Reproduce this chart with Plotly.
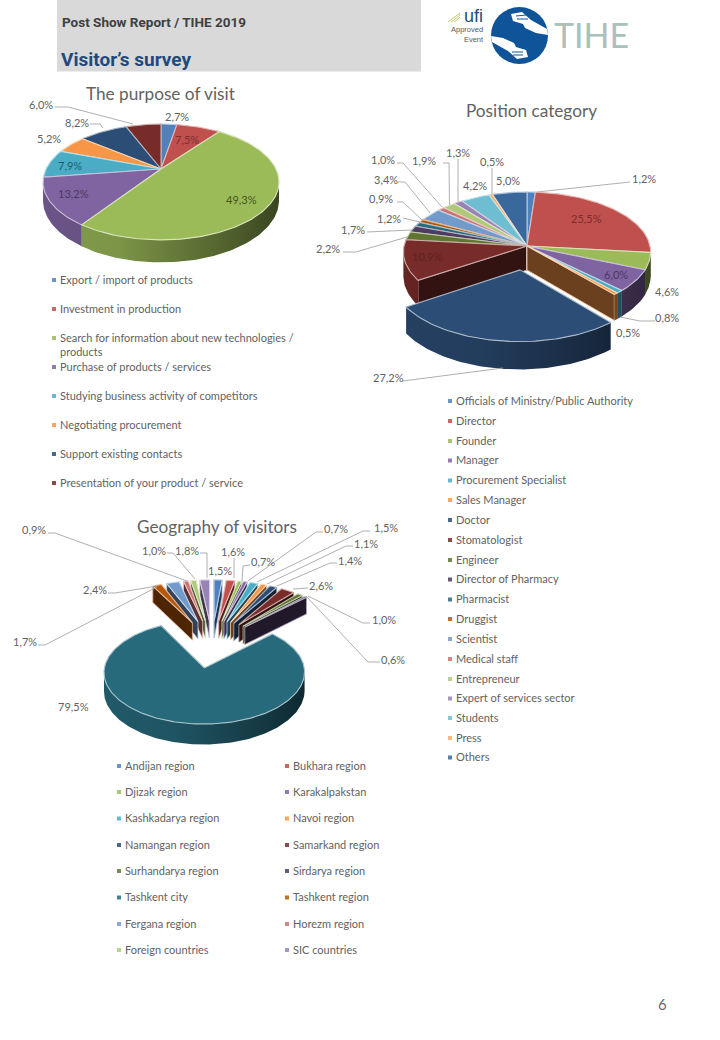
import math
import plotly.graph_objects as go

# ---------- data ----------
purpose_names = ["Export / import of products", "Investment in production",
                 "Search for information about new technologies /<br>products", "Purchase of products / services",
                 "Studying business activity of competitors", "Negotiating procurement",
                 "Support existing contacts", "Presentation of your product / service"]
purpose_values = [2.7, 7.5, 49.3, 13.2, 7.9, 5.2, 8.2, 6.0]

position_names = ["Officials of Ministry/Public Authority", "Director", "Founder", "Manager",
                  "Procurement Specialist", "Sales Manager", "Doctor", "Stomatologist", "Engineer",
                  "Director of Pharmacy", "Pharmacist", "Druggist", "Scientist", "Medical staff",
                  "Entrepreneur", "Expert of services sector", "Students", "Press", "Others"]
position_values = [1.2, 25.5, 4.6, 6.0, 0.8, 0.5, 27.2, 10.9, 2.2, 1.7, 1.2, 0.9, 3.4, 1.0, 1.9, 1.3, 4.2, 0.5, 5.0]

geography_names = ["Andijan region", "Bukhara region", "Djizak region", "Karakalpakstan",
                   "Kashkadarya region", "Navoi region", "Namangan region", "Samarkand region",
                   "Surhandarya region", "Sirdarya region", "Tashkent city", "Tashkent region",
                   "Fergana region", "Horezm region", "Foreign countries", "SIC countries"]
geography_values = [1.5, 1.6, 0.7, 0.7, 1.5, 1.1, 1.4, 2.6, 1.0, 0.6, 79.5, 1.7, 2.4, 0.9, 1.0, 1.8]

palette = ["#4F81BD", "#C0504D", "#9BBB59", "#8064A2", "#4BACC6", "#F79646", "#2C4D75", "#772C2A",
           "#5F7530", "#4D3B62", "#276A7C", "#B65708", "#729ACA", "#CD7371", "#AFC97A", "#9983B5",
           "#6FBDD1", "#F9AB6B", "#3A679C"]

FONT = "Lato"
TEXT = "#626262"
LEAD = "#A6A6A6"

fig = go.Figure()
ann = []


def shade(c, f):
    r, g, b = int(c[1:3], 16), int(c[3:5], 16), int(c[5:7], 16)
    return "rgb(%d,%d,%d)" % (r * f, g * f, b * f)


def tint(c, f):
    r, g, b = int(c[1:3], 16), int(c[3:5], 16), int(c[5:7], 16)
    return "rgb(%d,%d,%d)" % (r + (255 - r) * f, g + (255 - g) * f, b + (255 - b) * f)


def pie3d(values, names, cx, cy, R, S, k, depth, explode):
    """Perspective 3-D pie, all geometry derived from the values."""
    def proj(u, v):
        w = 1 + k * v
        return cx + R * u / w, cy - S * v / w, w

    left, right = cx - R * 1.25, cx + R * 1.25
    total = sum(values)
    slices = []
    acc = 0.0
    for i, val in enumerate(values):
        a0 = acc / total * 2 * math.pi
        acc += val
        a1 = acc / total * 2 * math.pi
        b = (a0 + a1) / 2
        slices.append((math.cos(b), i, a0, a1, b))
    slices.sort(key=lambda s: -s[0])
    for _, i, a0, a1, b in slices:
        col = palette[i % len(palette)]
        e = explode.get(i, 0)
        sx, sy = e * math.sin(b), e * math.cos(b)
        n = max(4, int((a1 - a0) / 0.02))
        th = [a0 + (a1 - a0) * j / n for j in range(n + 1)]
        rim = [proj(sx + math.sin(t), sy + math.cos(t)) for t in th]
        ax, ay, aw = proj(sx, sy)
        dz = lambda w: depth / w

        # radial walls
        for edge, pt, vis in ((a0, rim[0], rim[0][0] < ax), (a1, rim[-1], rim[-1][0] > ax)):
            if vis:
                xs = [ax, pt[0], pt[0], ax, ax]
                ys = [ay, pt[1], pt[1] + dz(pt[2]), ay + dz(aw), ay]
                fig.add_trace(go.Scatter(x=xs, y=ys, mode="lines", fill="toself", name=names[i],
                                         fillcolor=shade(col, 0.43), line=dict(color=tint(col, 0.55), width=0.8),
                                         hoverinfo="skip", showlegend=False))
        # outer wall: only the part of the rim that faces the viewer
        idx = [j for j, t in enumerate(th) if math.cos(t) < -k]
        if len(idx) > 1:
            pts = [rim[j] for j in idx]
            xs = [p[0] for p in pts] + [p[0] for p in pts[::-1]] + [pts[0][0]]
            ys = [p[1] for p in pts] + [p[1] + dz(p[2]) for p in pts[::-1]] + [pts[0][1]]
            fig.add_trace(go.Scatter(
                x=xs, y=ys, mode="lines", fill="toself", name=names[i],
                fillgradient=dict(type="horizontal", start=left, stop=right,
                                  colorscale=[[0, shade(col, 0.85)], [0.35, shade(col, 0.8)],
                                              [0.7, shade(col, 0.55)], [1, shade(col, 0.3)]]),
                line=dict(width=0), hoverinfo="skip", showlegend=False))
        # top surface
        xs = [ax] + [p[0] for p in rim] + [ax]
        ys = [ay] + [p[1] for p in rim] + [ay]
        fig.add_trace(go.Scatter(x=xs, y=ys, mode="lines", fill="toself", name=names[i], fillcolor=col,
                                 line=dict(color=tint(col, 0.6), width=1.1), hoverinfo="skip", showlegend=False))


def text(x, y, s, size=11, color=TEXT, anchor="center", family=FONT, **kw):
    ann.append(dict(x=x, y=y, xref="x", yref="y", text=s, showarrow=False, xanchor=anchor, yanchor="middle",
                    yshift=1, font=dict(family=family, size=size, color=color), **kw))


def leaders(paths):
    xs, ys = [], []
    for p in paths:
        for px, py in p:
            xs.append(px)
            ys.append(py)
        xs.append(None)
        ys.append(None)
    fig.add_trace(go.Scatter(x=xs, y=ys, mode="lines", line=dict(color=LEAD, width=0.9),
                             hoverinfo="skip", showlegend=False))


def legend(names, colx, rows, size=11):
    for n, (cx_, cy_) in zip(enumerate(names), rows):
        i, name = n
        fig.add_trace(go.Scatter(x=[cx_], y=[cy_], mode="markers", name=name.replace("<br>", " "),
                                 marker=dict(symbol="square", size=4, color=palette[i % len(palette)], opacity=0.85),
                                 hoverinfo="skip", showlegend=False))
        yy = cy_ + (7 if "<br>" in name else 0)
        text(cx_ + colx, yy, name, size=size, anchor="left", align="left")


# ---------- pies ----------
pie3d(purpose_values, purpose_names, 161, 169, 115, 55, 0.224, 17.5, {})
pie3d(position_values, position_names, 527, 246, 123, 59.4, 0.10, 24, {6: 0.39})
pie3d(geography_values, geography_names, 212, 643.5, 96, 47.5, 0.08, 18,
      {i: 0.5 for i in range(len(geography_values))})

# ---------- leader lines ----------
leaders([
    [(55, 107), (68, 107), (133, 124)], [(90, 124), (100, 124), (103, 128)],
    [(397, 163), (403, 163), (442, 207)], [(443, 163), (449, 163), (449.5, 205)],
    [(458, 159), (458, 202)], [(492, 168), (492, 195)], [(630, 182), (537, 192)],
    [(398, 182), (405, 182), (430, 213)], [(397, 202), (403, 202), (422, 220)],
    [(403, 218), (420, 222)], [(367, 232), (412, 230)], [(343, 252), (356, 252), (407, 237)],
    [(655, 321), (640, 321), (620, 317)], [(403, 381), (503, 368)],
    [(48, 533), (55, 533), (187, 581)], [(167, 553), (173, 553), (195, 579)],
    [(200, 553), (207, 553), (207, 578)], [(234, 558), (234, 578)],
    [(250, 565), (243, 566), (242, 581)], [(323, 532), (316, 532), (248, 581)],
    [(370, 531), (363, 531), (257, 582)], [(353, 546), (346, 546), (267, 584)],
    [(337, 563), (330, 563), (277, 586)], [(308, 588), (293, 589)],
    [(370, 623), (363, 623), (308, 596)], [(380, 662), (368, 662), (306, 596)],
    [(38, 645), (45, 645), (157, 587)], [(108, 593), (115, 593), (157, 586)],
])

# ---------- data labels ----------
for x, y, s in [(41, 105, "6,0%"), (77, 123, "8,2%"), (177, 117, "2,7%"), (49, 139, "5,2%"),
                (383, 160, "1,0%"), (424, 161, "1,9%"), (458, 153, "1,3%"), (492, 162, "0,5%"),
                (508, 181, "5,0%"), (475, 186, "4,2%"), (644, 179, "1,2%"), (386, 180, "3,4%"),
                (381, 199, "0,9%"), (389, 219, "1,2%"), (353, 230, "1,7%"), (328, 249, "2,2%"),
                (667, 292, "4,6%"), (667, 318, "0,8%"), (628, 333, "0,5%"), (388, 378, "27,2%"),
                (34, 530, "0,9%"), (154, 551, "1,0%"), (187, 551, "1,8%"), (220, 571, "1,5%"),
                (233, 552, "1,6%"), (263, 562, "0,7%"), (336, 529, "0,7%"), (386, 528, "1,5%"),
                (366, 544, "1,1%"), (350, 561, "1,4%"), (321, 586, "2,6%"), (384, 620, "1,0%"),
                (393, 660, "0,6%"), (73, 707, "79,5%"), (25, 642, "1,7%"), (95, 590, "2,4%")]:
    text(x, y, s)
for x, y, s, c in [(187, 140, "7,5%", "#7c2f2d"), (241, 200, "49,3%", "#45551f"), (73, 194, "13,2%", "#4a3a63"),
                   (70, 166, "7,9%", "#1f5e70"), (586, 219, "25,5%", "#7c2f2d"), (616, 275, "6,0%", "#4a3a63"),
                   (427, 257, "10,9%", "#5e2322")]:
    text(x, y, s, color=c)

# ---------- chart titles ----------
text(160.5, 94, "The purpose of visit", size=17.2)
text(531, 111, "Position category", size=17.2)
text(217, 527, "Geography of visitors", size=17.2)

# ---------- legends ----------
legend(purpose_names, 4, [(54, y) for y in (280, 309, 338, 367, 396, 425, 454, 483)])
legend(position_names, 4, [(450, y) for y in (401, 421, 441, 460.5, 480.5, 500, 520, 540, 560, 579.5,
                                              599.5, 619, 639, 659, 679, 698.5, 718, 738, 757.5)])
geo_rows = []
for y in (766, 792, 818.5, 845, 871, 897.5, 924, 950):
    geo_rows += [(119, y), (287, y)]
legend(geography_names, 4, geo_rows)

# ---------- header ----------
shapes = [dict(type="rect", xref="x", yref="y", x0=57, x1=421, y0=0, y1=71.5, fillcolor="#D9D9D9",
               line=dict(width=0), layer="below")]
text(60, 22.5, "<b>Post Show Report / TIHE 2019</b>", size=13.5, color="#404040", anchor="left", family="Roboto")
text(59, 60, "<b>Visitor’s survey</b>", size=19, color="#1F497D", anchor="left", family="Roboto")

# ---------- logo ----------
LCX, LCY, LR = 519.5, 35.5, 28.5
shapes.append(dict(type="circle", xref="x", yref="y", x0=LCX - LR, x1=LCX + LR, y0=LCY - LR, y1=LCY + LR,
                   fillcolor="#0F5499", line=dict(width=0)))
hand = [(511, 14), (522, 12), (531, 20), (547, 29), (548, 35), (536, 33), (525, 28), (523, 24), (513, 21)]
for pts in (hand, [(2 * LCX - x, 2 * LCY - y) for x, y in hand]):
    path = "M " + " L ".join("%.1f,%.1f" % p for p in pts) + " Z"
    shapes.append(dict(type="path", xref="x", yref="y", path=path, fillcolor="white", line=dict(width=0)))
for x0, y0, x1, y1 in [(516, 16, 526, 15), (517, 19, 528, 19), (512, 52, 523, 52), (513, 55, 523, 55)]:
    shapes.append(dict(type="line", xref="x", yref="y", x0=x0, y0=y0, x1=x1, y1=y1,
                       line=dict(color="#0F5499", width=1)))
for off in (0, 3, 6):
    shapes.append(dict(type="line", xref="x", yref="y", x0=448 + off, y0=22, x1=460, y1=13 + off * 0.7,
                       line=dict(color="#C3CC6A", width=1)))
text(486, 26, '<span style="font-size:18px;color:#1E4E79">ufi</span><br>Approved<br>Event',
     size=7.5, color="#595959", anchor="right", family="Liberation Sans", align="right")
text(591, 35, "TIHE", size=34, color="#A9C1BA", family="Lato")

# ---------- page number ----------
text(662.5, 1005, "6", size=15, color="#6b6b6b")

fig.update_layout(
    width=720, height=1040, margin=dict(l=0, r=0, t=0, b=0), autosize=False,
    paper_bgcolor="white", plot_bgcolor="white", showlegend=False,
    xaxis=dict(range=[0, 720], visible=False, fixedrange=True),
    yaxis=dict(range=[1040, 0], visible=False, fixedrange=True),
    annotations=ann, shapes=shapes,
)
fig.write_html("out.html", config=dict(displayModeBar=False),
               post_script="document.body.style.margin='0';")
